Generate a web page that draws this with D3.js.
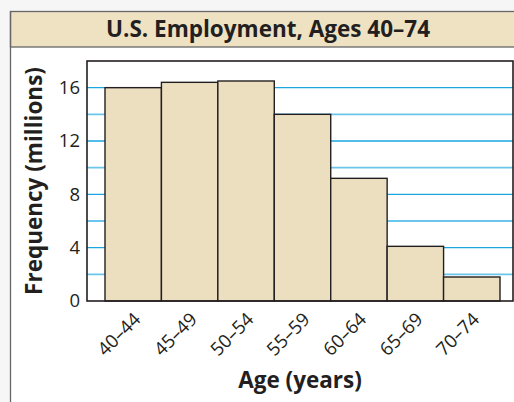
<!DOCTYPE html>
<html>
<head>
<meta charset="utf-8">
<script src="https://cdn.jsdelivr.net/npm/d3@7"></script>
<style>
  body { margin: 0; background: #fff; }
  svg { display: block; font-family: "Open Sans", "Noto Sans", sans-serif; }
</style>
</head>
<body>
<svg id="chart" width="514" height="402"></svg>
<script>
var ageGroups = ["40–44", "45–49", "50–54", "55–59", "60–64", "65–69", "70–74"];
var frequency = [16.0, 16.4, 16.5, 14.0, 9.2, 4.1, 1.8];
var yTicks = [0, 4, 8, 12, 16];
var gridValues = [2, 4, 6, 8, 10, 12, 14, 16];

var title = "U.S. Employment, Ages 40–74";
var xTitle = "Age (years)";
var yTitle = "Frequency (millions)";

var svg = d3.select("#chart");
var W = 514, H = 402;
var dark = "#231f20";

// outer frame + header band
svg.append("rect").attr("x", 0).attr("y", 0).attr("width", W).attr("height", 11).attr("fill", "#f6f6f6");
svg.append("rect").attr("x", 0).attr("y", 0).attr("width", 10).attr("height", H).attr("fill", "#f6f6f6");
svg.append("rect")
    .attr("x", 10.5).attr("y", 11.5)
    .attr("width", W).attr("height", 35.5)
    .attr("fill", "#eee2c3")
    .attr("stroke", "#666").attr("stroke-width", 1.3);
svg.append("line")
    .attr("x1", 10.5).attr("x2", 10.5).attr("y1", 11).attr("y2", H)
    .attr("stroke", "#666").attr("stroke-width", 1.3);

svg.append("text")
    .attr("x", 268).attr("y", 37)
    .attr("text-anchor", "middle")
    .attr("font-size", 22.5).attr("font-weight", "bold")
    .attr("fill", dark)
    .text(title);

var plot = { left: 87, right: 513, top: 61, bottom: 301 };

var y = d3.scaleLinear().domain([0, 18]).range([plot.bottom, plot.top]);
var x = d3.scaleBand().domain(ageGroups).range([105, 500]).padding(0);

// gridlines
svg.append("g").selectAll("line")
    .data(gridValues)
    .enter().append("line")
    .attr("x1", plot.left).attr("x2", plot.right)
    .attr("y1", d => y(d)).attr("y2", d => y(d))
    .attr("stroke", d => d % 4 === 0 ? "#1ba6e0" : "#6cc6ec")
    .attr("stroke-width", d => d % 4 === 0 ? 1.3 : 1.8);

// bars
svg.append("g").selectAll("rect")
    .data(frequency)
    .enter().append("rect")
    .attr("x", (d, i) => x(ageGroups[i]))
    .attr("y", d => y(d))
    .attr("width", x.bandwidth())
    .attr("height", d => y(0) - y(d))
    .attr("fill", "#ecdfc0")
    .attr("stroke", dark).attr("stroke-width", 1.4);

// plot frame
svg.append("rect")
    .attr("x", plot.left).attr("y", plot.top)
    .attr("width", plot.right - plot.left).attr("height", plot.bottom - plot.top)
    .attr("fill", "none").attr("stroke", dark).attr("stroke-width", 1.6);

// y axis labels
var yAxis = d3.axisLeft(y).tickValues(yTicks).tickSize(0).tickPadding(7);
var gy = svg.append("g").attr("transform", "translate(" + plot.left + ",0)").call(yAxis);
gy.select(".domain").remove();
gy.selectAll("text").attr("font-size", 18.5).attr("fill", dark)
    .attr("font-family", "'Open Sans', sans-serif");

// x axis labels
var xAxis = d3.axisBottom(x).tickSize(0).tickPadding(0);
var gx = svg.append("g").attr("transform", "translate(0," + plot.bottom + ")").call(xAxis);
gx.select(".domain").remove();
gx.selectAll("text")
    .attr("font-size", 18.5).attr("fill", dark)
    .attr("font-family", "'Open Sans', sans-serif")
    .attr("text-anchor", "end")
    .attr("dy", "0.35em")
    .attr("transform", "translate(4,15) rotate(-45)");

// axis titles
svg.append("text")
    .attr("x", 300).attr("y", 388)
    .attr("text-anchor", "middle")
    .attr("font-size", 22.5).attr("font-weight", "bold")
    .attr("fill", dark)
    .text(xTitle);

svg.append("text")
    .attr("transform", "translate(42,181) rotate(-90)")
    .attr("text-anchor", "middle")
    .attr("font-size", 22.5).attr("font-weight", "bold")
    .attr("fill", dark)
    .text(yTitle);
</script>
</body>
</html>
